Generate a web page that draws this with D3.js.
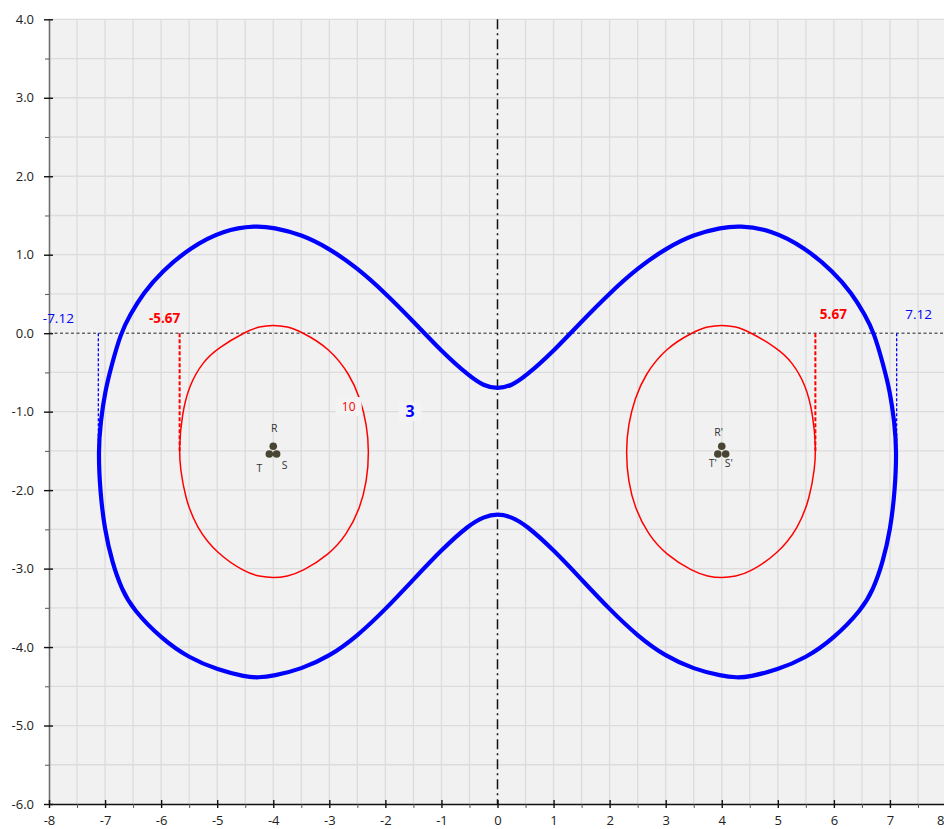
<!DOCTYPE html>
<html>
<head>
<meta charset="utf-8">
<script src="https://cdn.jsdelivr.net/npm/d3@7"></script>
<style>
body { margin: 0; background: #fff; }
text { font-family: "Open Sans", sans-serif; }
</style>
</head>
<body>
<div id="chart"></div>
<script>
// tick values
var xTicks = [-8, -7, -6, -5, -4, -3, -2, -1, 0, 1, 2, 3, 4, 5, 6, 7, 8];
var yTicks = [-6, -5, -4, -3, -2, -1, 0, 1, 2, 3, 4];

// contour level 3 (blue), going round the whole curve
var blueContour = [
  [-7.12, -1.50], [-7.08, -1.13], [-7.00, -0.74], [-6.88, -0.40], [-6.72, 0.00],
  [-6.555, 0.233], [-6.32, 0.51], [-5.99, 0.785], [-5.485, 1.09], [-4.89, 1.316],
  [-4.30, 1.37], [-4.00, 1.345], [-3.50, 1.26], [-3.00, 1.08], [-2.50, 0.83],
  [-2.00, 0.51], [-1.50, 0.15], [-1.00, -0.23], [-0.50, -0.55], [-0.25, -0.67],
  [0.00, -0.71], [0.25, -0.67],
  [0.50, -0.55], [1.00, -0.23], [1.50, 0.15], [2.00, 0.51], [2.50, 0.83],
  [3.00, 1.08], [3.50, 1.26], [4.00, 1.345], [4.30, 1.37], [4.89, 1.316],
  [5.485, 1.09], [5.99, 0.785], [6.32, 0.51], [6.555, 0.233], [6.72, 0.00],
  [6.88, -0.40], [7.00, -0.74], [7.08, -1.13], [7.12, -1.50],
  [7.09, -2.00], [7.01, -2.50], [6.87, -2.93], [6.70, -3.27], [6.50, -3.52],
  [6.00, -3.89], [5.50, -4.14], [4.99, -4.29], [4.49, -4.38], [4.27, -4.39],
  [4.00, -4.37], [3.50, -4.28], [3.00, -4.12], [2.50, -3.86], [2.00, -3.52],
  [1.50, -3.14], [1.00, -2.76], [0.50, -2.44], [0.25, -2.34], [0.00, -2.30],
  [-0.25, -2.34], [-0.50, -2.44], [-1.00, -2.76], [-1.50, -3.14], [-2.00, -3.52],
  [-2.50, -3.86], [-3.00, -4.12], [-3.50, -4.28], [-4.00, -4.37], [-4.27, -4.39],
  [-4.49, -4.38], [-4.99, -4.29], [-5.50, -4.14], [-6.00, -3.89], [-6.50, -3.52],
  [-6.70, -3.27], [-6.87, -2.93], [-7.01, -2.50], [-7.09, -2.00]
];

// contour level 10 (red), left and right circuits
var redLeft = [
  [-4.00, 0.106], [-3.75, 0.085], [-3.50, 0.02], [-3.00, -0.19], [-2.63, -0.53],
  [-2.45, -0.83], [-2.33, -1.17], [-2.29, -1.51], [-2.33, -1.89], [-2.45, -2.23],
  [-2.69, -2.57], [-3.00, -2.82], [-3.49, -3.04], [-3.75, -3.10], [-4.00, -3.12],
  [-4.25, -3.10], [-4.49, -3.05], [-4.99, -2.82], [-5.37, -2.48], [-5.57, -2.10],
  [-5.66, -1.72], [-5.68, -1.46], [-5.63, -1.04], [-5.50, -0.66], [-5.25, -0.36],
  [-4.99, -0.19], [-4.49, 0.02], [-4.25, 0.085]
];
var redRight = [
  [4.00, 0.106], [4.25, 0.085], [4.49, 0.02], [4.99, -0.19], [5.25, -0.36],
  [5.50, -0.66], [5.63, -1.04], [5.68, -1.46], [5.66, -1.72], [5.57, -2.10],
  [5.37, -2.48], [4.99, -2.82], [4.49, -3.05], [4.25, -3.10], [4.00, -3.12],
  [3.75, -3.10], [3.49, -3.04], [3.00, -2.82], [2.69, -2.57], [2.45, -2.23],
  [2.33, -1.89], [2.29, -1.51], [2.33, -1.17], [2.45, -0.83], [2.63, -0.53],
  [3.00, -0.19], [3.50, 0.02], [3.75, 0.085]
];

// conductors: name, x, y
var conductorNames = ["R", "T", "S", "R'", "T'", "S'"];
var conductorX = [-4.00, -4.07, -3.94, 4.00, 3.93, 4.07];
var conductorY = [-1.44, -1.54, -1.54, -1.44, -1.54, -1.54];

// width markers: value, colour
var markerValues = [-7.12, 7.12, -5.67, 5.67];
var markerColors = ["blue", "blue", "red", "red"];
var markerDepth = -1.5;

var width = 944,
    height = 829;

var x = d3.scaleLinear().domain([-8, 8]).range([49, 946]);
var y = d3.scaleLinear().domain([-6, 4]).range([804, 19.3]);

// hyphen instead of the unicode minus
var fmt1 = d => d.toFixed(1),
    fmt0 = d => d.toFixed(0),
    fmt2 = d => d.toFixed(2);

var svg = d3.select("#chart")
    .append("svg")
    .attr("width", width)
    .attr("height", height);

// plot background
svg.append("rect")
    .attr("x", x(-8))
    .attr("y", y(4))
    .attr("width", x(8) - x(-8))
    .attr("height", y(-6) - y(4))
    .attr("fill", "#f1f1f1");

// grid every half unit
var grid = svg.append("g").attr("stroke", "#dcdcdc").attr("stroke-width", 1.3);
grid.selectAll(".gx")
    .data(x.ticks(32).filter(d => d != 0 && d != -8))
    .enter().append("line")
    .attr("x1", d => x(d)).attr("x2", d => x(d))
    .attr("y1", y(4)).attr("y2", y(-6));
grid.selectAll(".gy")
    .data(y.ticks(20).filter(d => d != 0 && d != -6))
    .enter().append("line")
    .attr("x1", x(-8)).attr("x2", x(8))
    .attr("y1", d => y(d)).attr("y2", d => y(d));

// y axis
var yAxis = svg.append("g")
    .attr("transform", "translate(" + x(-8) + ",0)")
    .call(d3.axisLeft(y).tickValues(yTicks).tickFormat(fmt1)
        .tickSizeInner(5).tickSizeOuter(0).tickPadding(10));
yAxis.select(".domain").attr("stroke", "#6e6e6e").attr("stroke-width", 1.6);
yAxis.selectAll(".tick line").attr("x2", -5).attr("x1", 4).attr("stroke", "#111").attr("stroke-width", 1.4);
yAxis.selectAll("text").attr("font-size", 13).attr("fill", "#222").style("font-family", "'Open Sans', sans-serif");

svg.append("g")
    .attr("transform", "translate(" + x(-8) + ",0)")
    .call(d3.axisLeft(y).tickValues(y.ticks(20).filter(d => d % 1 != 0)).tickFormat("")
        .tickSizeInner(4).tickSizeOuter(0))
    .call(g => g.select(".domain").remove())
    .selectAll("line").attr("stroke", "#555");

// x axis
var xAxis = svg.append("g")
    .attr("transform", "translate(0," + y(-6) + ")")
    .call(d3.axisBottom(x).tickValues(xTicks).tickFormat(fmt0)
        .tickSizeInner(4).tickSizeOuter(0).tickPadding(7.5));
xAxis.select(".domain").attr("stroke", "#111").attr("stroke-width", 1.4);
xAxis.selectAll(".tick line").attr("y1", -4).attr("y2", 4).attr("stroke", "#111").attr("stroke-width", 1.4);
xAxis.selectAll("text").attr("font-size", 13).attr("fill", "#222").style("font-family", "'Open Sans', sans-serif");
// the last label sits on the window edge
xAxis.selectAll("text").filter(d => d == 8).attr("text-anchor", "end").attr("dx", -2);

svg.append("g")
    .attr("transform", "translate(0," + y(-6) + ")")
    .call(d3.axisBottom(x).tickValues(x.ticks(32).filter(d => d % 1 != 0)).tickFormat("")
        .tickSizeInner(4).tickSizeOuter(0))
    .call(g => g.select(".domain").remove())
    .selectAll("line").attr("stroke", "#555");

// ground line y = 0 and centre line x = 0
svg.append("line")
    .attr("x1", x(-8)).attr("x2", x(8))
    .attr("y1", y(0)).attr("y2", y(0))
    .attr("stroke", "#222").attr("stroke-width", 1)
    .attr("stroke-dasharray", "3,2.5");

svg.append("line")
    .attr("x1", x(0)).attr("x2", x(0))
    .attr("y1", y(4)).attr("y2", y(-6))
    .attr("stroke", "#111").attr("stroke-width", 1.5)
    .attr("stroke-dasharray", "10,4,2,4");

// width markers
var markers = markerValues.map((v, i) => ({v: v, c: markerColors[i]}));
svg.selectAll(".marker")
    .data(markers)
    .enter().append("line")
    .attr("x1", d => x(d.v)).attr("x2", d => x(d.v))
    .attr("y1", y(0)).attr("y2", y(markerDepth))
    .attr("stroke", d => d.c)
    .attr("stroke-width", d => d.c == "red" ? 2 : 1.3)
    .attr("stroke-dasharray", d => d.c == "red" ? "4,2" : "3,2");

// marker labels
svg.selectAll(".mlabel")
    .data(markers)
    .enter().append("text")
    .attr("x", d => {
      if (d.c == "blue") return d.v < 0 ? x(d.v) - 40 : x(d.v) + 22;
      return d.v < 0 ? x(d.v) - 15 : x(d.v) + 18;
    })
    .attr("y", d => d.v < 0 ? y(0) - 10.5 : y(0) - 14)
    .attr("text-anchor", "middle")
    .attr("font-size", 13.5)
    .attr("font-weight", d => d.c == "red" ? "bold" : "normal")
    .attr("fill", d => d.c)
    .text(d => fmt2(d.v));

// contour curves
var line = d3.line()
    .x(d => x(d[0]))
    .y(d => y(d[1]))
    .curve(d3.curveBasisClosed);

svg.append("path")
    .datum(redLeft)
    .attr("d", line)
    .attr("fill", "none")
    .attr("stroke", "red")
    .attr("stroke-width", 1.5);

svg.append("path")
    .datum(redRight)
    .attr("d", line)
    .attr("fill", "none")
    .attr("stroke", "red")
    .attr("stroke-width", 1.5);

svg.append("path")
    .datum(blueContour)
    .attr("d", line)
    .attr("fill", "none")
    .attr("stroke", "blue")
    .attr("stroke-width", 4.2);

// contour level labels
var levelLabels = [
  {text: "10", x: -2.655, y: -0.935, color: "red", size: 12, weight: "normal", w: 26, h: 19},
  {text: "3", x: -1.56, y: -1.0, color: "blue", size: 16, weight: "bold", w: 23, h: 19}
];
var lab = svg.selectAll(".level")
    .data(levelLabels)
    .enter().append("g")
    .attr("transform", d => "translate(" + x(d.x) + "," + y(d.y) + ")");
lab.append("rect")
    .attr("x", d => -d.w / 2).attr("y", d => -d.h / 2)
    .attr("width", d => d.w).attr("height", d => d.h)
    .attr("fill", "#f3f3f3");
lab.append("text")
    .attr("text-anchor", "middle")
    .attr("dy", "0.36em")
    .attr("font-size", d => d.size)
    .attr("font-weight", d => d.weight)
    .attr("fill", d => d.color)
    .text(d => d.text);

// conductors
var conductors = conductorNames.map((n, i) => ({name: n, x: conductorX[i], y: conductorY[i]}));
svg.selectAll(".cond")
    .data(conductors)
    .enter().append("circle")
    .attr("cx", d => x(d.x))
    .attr("cy", d => y(d.y))
    .attr("r", 3.8)
    .attr("fill", "#4a4532");

var offsets = {
  "R": [1, -14], "T": [-10, 18], "S": [8, 15],
  "R'": [-3, -10], "T'": [-5, 13], "S'": [3, 13]
};
svg.selectAll(".cname")
    .data(conductors)
    .enter().append("text")
    .attr("x", d => x(d.x) + offsets[d.name][0])
    .attr("y", d => y(d.y) + offsets[d.name][1])
    .attr("text-anchor", "middle")
    .attr("font-size", 10.5)
    .attr("fill", "#333")
    .text(d => d.name);
</script>
</body>
</html>
